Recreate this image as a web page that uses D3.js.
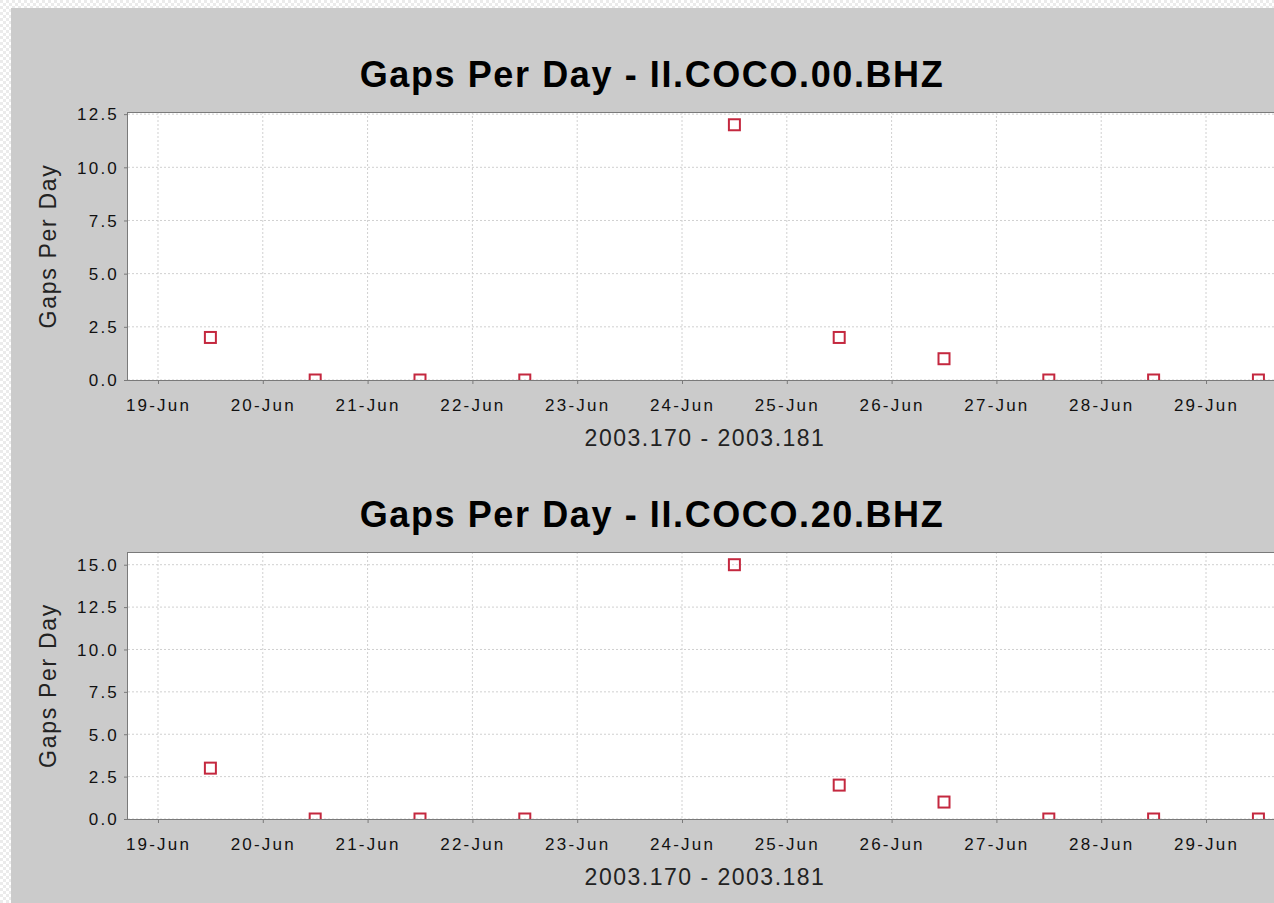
<!DOCTYPE html>
<html>
<head>
<meta charset="utf-8">
<script src="https://cdn.jsdelivr.net/npm/d3@7"></script>
<style>
  body { margin: 0; background: #fff; }
  svg { display: block; font-family: "Liberation Sans", Arial, sans-serif; }
</style>
</head>
<body>
<svg id="chart" width="1274" height="903"></svg>
<script>
// one sample per day, plotted at noon
const sampleDays = [
  '2003-06-19T12:00', '2003-06-20T12:00', '2003-06-21T12:00', '2003-06-22T12:00',
  '2003-06-23T12:00', '2003-06-24T12:00', '2003-06-25T12:00', '2003-06-26T12:00',
  '2003-06-27T12:00', '2003-06-28T12:00', '2003-06-29T12:00',
]
const gaps00 = [2, 0, 0, 0, null, 12, 2, 1, 0, 0, 0]
const gaps20 = [3, 0, 0, 0, null, 15, 2, 1, 0, 0, 0]
const channels = ['II.COCO.00.BHZ', 'II.COCO.20.BHZ']
const yMax = [12.6, 15.75]
const yTicks = [
  [0, 2.5, 5, 7.5, 10, 12.5],
  [0, 2.5, 5, 7.5, 10, 12.5, 15],
]
const xStart = '2003-06-18T17:08'
const xEnd = '2003-06-29T17:24'
const xAxisTitle = '2003.170 - 2003.181'
const yAxisTitle = 'Gaps Per Day'

const parse = d3.timeParse('%Y-%m-%dT%H:%M')
const series = [gaps00, gaps20]

const svg = d3.select('#chart')
const defs = svg.append('defs')

// transparent-looking checker border on left and top
const pat = defs.append('pattern')
  .attr('id', 'checker').attr('width', 6).attr('height', 6)
  .attr('patternUnits', 'userSpaceOnUse')
pat.append('rect').attr('width', 6).attr('height', 6).attr('fill', '#ffffff')
pat.append('rect').attr('width', 3).attr('height', 3).attr('fill', '#ebebeb')
pat.append('rect').attr('x', 3).attr('y', 3).attr('width', 3).attr('height', 3).attr('fill', '#ebebeb')

svg.append('rect').attr('width', 1274).attr('height', 903).attr('fill', 'url(#checker)')
svg.append('rect').attr('x', 11).attr('y', 8).attr('width', 1263).attr('height', 895).attr('fill', '#cbcbcb')

const margins = {left: 128, right: 1282}
const plotTop = [112, 552]
const plotBottom = [380, 819]

const x = d3.scaleTime()
  .domain([parse(xStart), parse(xEnd)])
  .range([margins.left, margins.right])

channels.forEach((channel, i) => {
  const top = plotTop[i]
  const bottom = plotBottom[i]
  const y = d3.scaleLinear().domain([0, yMax[i]]).range([bottom, top])
  const g = svg.append('g')

  g.append('text')
    .attr('x', 652)
    .attr('y', top - 25)
    .attr('text-anchor', 'middle')
    .attr('font-size', 36)
    .attr('font-weight', 'bold')
    .attr('letter-spacing', 1.6)
    .attr('fill', '#000')
    .text(`Gaps Per Day - ${channel}`)

  g.append('rect')
    .attr('x', margins.left)
    .attr('y', top)
    .attr('width', margins.right - margins.left)
    .attr('height', bottom - top)
    .attr('fill', '#fff')

  const dayTicks = x.ticks(d3.timeDay.every(1))

  g.selectAll('line.vgrid')
    .data(dayTicks)
    .enter()
    .append('line')
    .attr('x1', d => x(d)).attr('x2', d => x(d))
    .attr('y1', top).attr('y2', bottom)
    .attr('stroke', '#d0d0d0')
    .attr('stroke-dasharray', '2,2')

  g.selectAll('line.hgrid')
    .data(yTicks[i])
    .enter()
    .append('line')
    .attr('x1', margins.left).attr('x2', margins.right)
    .attr('y1', d => y(d)).attr('y2', d => y(d))
    .attr('stroke', '#d0d0d0')
    .attr('stroke-dasharray', '2,2')

  // frame
  g.append('line')
    .attr('x1', margins.left).attr('x2', margins.right)
    .attr('y1', top + 0.5).attr('y2', top + 0.5)
    .attr('stroke', '#7a7a7a')

  const clipId = `clip-${i}`
  defs.append('clipPath').attr('id', clipId)
    .append('rect')
    .attr('x', margins.left).attr('y', top)
    .attr('width', margins.right - margins.left)
    .attr('height', bottom - top)

  const points = sampleDays
    .map((d, k) => ({date: parse(d), value: series[i][k]}))
    .filter(p => p.value !== null)

  g.append('g')
    .attr('clip-path', `url(#${clipId})`)
    .selectAll('rect')
    .data(points)
    .enter()
    .append('rect')
    .attr('x', d => x(d.date) - 5.5)
    .attr('y', d => y(d.value) - 5.5)
    .attr('width', 11)
    .attr('height', 11)
    .attr('fill', 'none')
    .attr('stroke', '#c4283f')
    .attr('stroke-width', 2)

  const xAxis = d3.axisBottom(x)
    .ticks(d3.timeDay.every(1))
    .tickFormat(d3.timeFormat('%d-%b'))
    .tickSize(4)

  const xg = g.append('g')
    .attr('transform', `translate(0, ${bottom})`)
    .call(xAxis)
  xg.select('.domain').remove()
  xg.selectAll('line').attr('stroke', '#7a7a7a')
  xg.selectAll('text')
    .attr('y', 31).attr('dy', 0)
    .attr('font-size', 17)
    .attr('letter-spacing', 2.2)
    .attr('font-family', '"Liberation Sans", Arial, sans-serif')
    .attr('fill', '#111')

  const yAxis = d3.axisLeft(y)
    .tickValues(yTicks[i])
    .tickFormat(d3.format('.1f'))
    .tickSize(4)

  const yg = g.append('g')
    .attr('transform', `translate(${margins.left}, 0)`)
    .call(yAxis)
  yg.select('.domain').remove()
  yg.selectAll('line').attr('stroke', '#7a7a7a')
  yg.selectAll('text')
    .attr('x', -9)
    .attr('dy', '0.34em')
    .attr('font-size', 17)
    .attr('letter-spacing', 2.2)
    .attr('font-family', '"Liberation Sans", Arial, sans-serif')
    .attr('fill', '#111')

  g.append('line')
    .attr('x1', margins.left - 0.5).attr('x2', margins.left - 0.5)
    .attr('y1', top).attr('y2', bottom)
    .attr('stroke', '#7a7a7a')
  g.append('line')
    .attr('x1', margins.left).attr('x2', margins.right)
    .attr('y1', bottom + 0.5).attr('y2', bottom + 0.5)
    .attr('stroke', '#7a7a7a')

  g.append('text')
    .attr('x', (margins.left + margins.right) / 2)
    .attr('y', bottom + 66)
    .attr('text-anchor', 'middle')
    .attr('font-size', 23)
    .attr('letter-spacing', 1.5)
    .attr('fill', '#222')
    .text(xAxisTitle)

  g.append('text')
    .attr('transform', `translate(56, ${(top + bottom) / 2}) rotate(-90)`)
    .attr('text-anchor', 'middle')
    .attr('font-size', 23)
    .attr('letter-spacing', 1.7)
    .attr('fill', '#222')
    .text(yAxisTitle)
})
</script>
</body>
</html>
